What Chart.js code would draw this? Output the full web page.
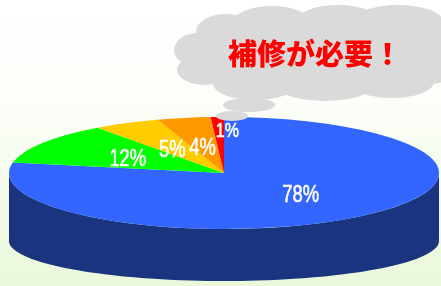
<!DOCTYPE html>
<html><head><meta charset="utf-8">
<script src="https://cdn.jsdelivr.net/npm/chart.js@4"></script>
<style>html,body{margin:0;padding:0;overflow:hidden;background:#fff}#wrap{width:441px;height:286px;position:relative}</style>
</head><body><div id="wrap"><canvas id="c" width="441" height="286"></canvas></div>
<script>
const categories = ['A','B','C','D','E'];
const values = [78, 12, 5, 4, 1];
const valueLabels = ['78%', '12%', '5%', '4%', '1%'];
const calloutText = '補修が必要！';

const colors = ['#3366FF', '#00FF00', '#FFCC00', '#FF9900', '#FF0000'];
const sideColors = ['#1B347F', '#008800', '#886600', '#884d00', '#880000'];

const geo = { cx: 224, cy: 173, rx: 215, ry: 56, byc: 241, bry: 40 };

function toEllipse(ctx, el) {
  ctx.translate(geo.cx, geo.cy);
  ctx.scale(geo.rx / el.outerRadius, geo.ry / el.outerRadius);
  ctx.translate(-el.x, -el.y);
}

const pie3d = {
  id: 'pie3d',
  beforeDraw(chart) {
    const ctx = chart.ctx;
    const g = ctx.createLinearGradient(0, 0, 0, chart.height);
    g.addColorStop(0, '#FFFFFF');
    g.addColorStop(0.35, '#FCFEF9');
    g.addColorStop(1, '#EAF8DA');
    ctx.save();
    ctx.fillStyle = g;
    ctx.fillRect(0, 0, chart.width, chart.height);
    ctx.restore();
  },
  beforeDatasetsDraw(chart) {
    const ctx = chart.ctx;
    const meta = chart.getDatasetMeta(0);
    meta.data.forEach((el, i) => {
      const s = el.startAngle, e = el.endAngle;
      const ranges = [];
      for (let k = -1; k <= 1; k++) {
        const lo = Math.max(s, k * 2 * Math.PI), hi = Math.min(e, Math.PI + k * 2 * Math.PI);
        if (hi > lo) ranges.push([lo, hi]);
      }
      ranges.forEach(([a0, a1]) => {
        ctx.save();
        ctx.fillStyle = sideColors[i];
        ctx.beginPath();
        const N = 80;
        for (let j = 0; j <= N; j++) {
          const a = a0 + (a1 - a0) * j / N;
          const x = geo.cx + geo.rx * Math.cos(a), y = geo.cy + geo.ry * Math.sin(a);
          j === 0 ? ctx.moveTo(x, y) : ctx.lineTo(x, y);
        }
        for (let j = N; j >= 0; j--) {
          const a = a0 + (a1 - a0) * j / N;
          ctx.lineTo(geo.cx + geo.rx * Math.cos(a), geo.byc + geo.bry * Math.sin(a));
        }
        ctx.closePath();
        ctx.fill();
        ctx.restore();
      });
    });
    const el = meta.data[0];
    ctx.save();
    toEllipse(ctx, el);
  },
  afterDatasetsDraw(chart) {
    const ctx = chart.ctx;
    ctx.restore();
    const meta = chart.getDatasetMeta(0);
    meta.data.forEach((el, i) => {
      const mid = (el.startAngle + el.endAngle) / 2;
      const small = values[i] < 2;
      const fy = small ? 0.75 : 0.45;
      let x = geo.cx + geo.rx * 0.53 * Math.cos(mid);
      let y = geo.cy + geo.ry * fy * Math.sin(mid);
      if (small) x += 7;
      if (mid > 0 && mid < Math.PI) { x += 4; y += 3; }
      ctx.save();
      ctx.translate(x, y);
      ctx.scale(0.8, 1);
      ctx.fillStyle = '#FFFFFF';
      ctx.strokeStyle = '#FFFFFF';
      ctx.lineWidth = 0.6;
      ctx.font = (small ? '20px' : '23px') + ' "Liberation Sans", Arial, sans-serif';
      ctx.textAlign = 'center';
      ctx.textBaseline = 'middle';
      ctx.fillText(valueLabels[i], 0, 0);
      ctx.strokeText(valueLabels[i], 0, 0);
      ctx.restore();
    });
  },
  afterDraw(chart) {
    const ctx = chart.ctx;
    ctx.save();
    ctx.fillStyle = '#DADADA';
    const puffs = [
      [312, 55, 118, 38],
      [198, 50, 24, 17],
      [226, 32, 30, 18],
      [272, 24, 40, 18],
      [338, 22, 42, 17],
      [398, 20, 44, 15],
      [432, 38, 30, 22],
      [205, 70, 28, 15],
      [255, 84, 42, 16],
      [325, 86, 48, 15],
      [392, 82, 42, 16],
      [430, 66, 28, 18],
      [249, 105, 26, 7],
      [232, 116, 16, 5]
    ];
    puffs.forEach(([x, y, rx, ry]) => {
      ctx.beginPath();
      ctx.ellipse(x, y, rx, ry, 0, 0, Math.PI * 2);
      ctx.fill();
    });
    ctx.fillStyle = '#FF0000';
    ctx.font = '900 29px "Noto Sans CJK JP", sans-serif';
    ctx.textAlign = 'center';
    ctx.textBaseline = 'middle';
    ctx.fillText(calloutText, 315, 54);
    ctx.restore();
  }
};

new Chart(document.getElementById('c'), {
  type: 'pie',
  data: {
    labels: categories,
    datasets: [{ data: values, backgroundColor: colors, borderWidth: 0, hoverOffset: 0 }]
  },
  options: {
    responsive: false,
    animation: false,
    events: [],
    layout: { padding: 0 },
    plugins: { legend: { display: false }, tooltip: { enabled: false } }
  },
  plugins: [pie3d]
});
</script></body></html>
